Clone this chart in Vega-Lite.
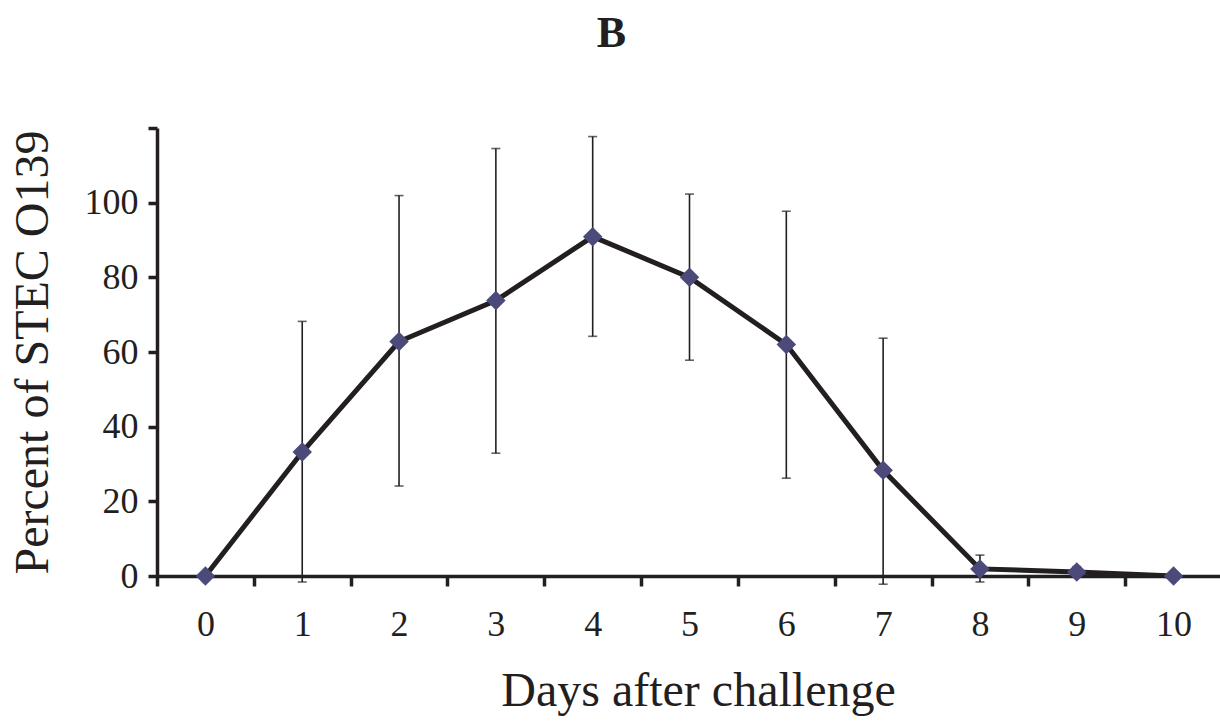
{
  "$schema": "https://vega.github.io/schema/vega-lite/v6.json",
  "autosize": {"type": "none"},
  "padding": {"left": 157, "top": 128, "right": 0, "bottom": 151},
  "width": 1065,
  "height": 448,
  "background": "white",
  "config": {
    "view": {"stroke": null},
    "font": "Liberation Serif"
  },
  "title": {
    "text": "B",
    "font": "Liberation Serif",
    "fontSize": 44,
    "fontWeight": "bold",
    "color": "#231f20",
    "anchor": "middle",
    "frame": "group",
    "dx": -78,
    "baseline": "alphabetic",
    "offset": 35
  },
  "data": {
    "values": [
      {"day": 0, "mean": 0, "lo": 0, "hi": 0},
      {"day": 1, "mean": 33.2, "lo": -1.6, "hi": 68.2},
      {"day": 2, "mean": 62.8, "lo": 24.1, "hi": 101.9},
      {"day": 3, "mean": 73.8, "lo": 32.9, "hi": 114.5},
      {"day": 4, "mean": 90.9, "lo": 64.2, "hi": 117.7},
      {"day": 5, "mean": 80.0, "lo": 57.8, "hi": 102.3},
      {"day": 6, "mean": 62.0, "lo": 26.2, "hi": 97.7},
      {"day": 7, "mean": 28.3, "lo": -2.2, "hi": 63.7},
      {"day": 8, "mean": 1.9, "lo": -1.6, "hi": 5.6},
      {"day": 9, "mean": 1.1, "lo": 0, "hi": 2.5},
      {"day": 10, "mean": 0, "lo": 0, "hi": 0}
    ]
  },
  "encoding": {
    "x": {
      "field": "day",
      "type": "ordinal",
      "scale": {"type": "band", "paddingInner": 0, "paddingOuter": 0},
      "axis": {
        "title": "Days after challenge",
        "titleFont": "Liberation Serif",
        "titleFontSize": 48,
        "titleFontWeight": "normal",
        "titleColor": "#231f20",
        "titleX": 541,
        "titleY": 129,
        "titleBaseline": "alphabetic",
        "labelAngle": 0,
        "labelFont": "Liberation Serif",
        "labelFontSize": 36,
        "labelColor": "#231f20",
        "labelPadding": 21,
        "tickBand": "extent",
        "tickSize": 10,
        "tickWidth": 3.5,
        "tickColor": "#231f20",
        "domainWidth": 3.5,
        "domainColor": "#231f20",
        "grid": false
      }
    }
  },
  "layer": [
    {
      "mark": {"type": "rule", "color": "#231f20", "strokeWidth": 1.6},
      "encoding": {
        "y": {"field": "lo", "type": "quantitative"},
        "y2": {"field": "hi"}
      }
    },
    {
      "mark": {"type": "tick", "color": "#231f20", "size": 9, "thickness": 1.6, "orient": "horizontal"},
      "encoding": {
        "y": {"field": "hi", "type": "quantitative"}
      }
    },
    {
      "mark": {"type": "tick", "color": "#231f20", "size": 9, "thickness": 1.6, "orient": "horizontal"},
      "encoding": {
        "y": {"field": "lo", "type": "quantitative"}
      }
    },
    {
      "mark": {"type": "line", "color": "#231f20", "strokeWidth": 5},
      "encoding": {
        "y": {
          "field": "mean",
          "type": "quantitative",
          "scale": {"domain": [0, 120], "nice": false, "zero": false},
          "axis": {
            "title": "Percent of STEC O139",
            "titleFont": "Liberation Serif",
            "titleFontSize": 48,
            "titleFontWeight": "normal",
            "titleColor": "#231f20",
            "titleX": -110,
            "titleY": 224,
            "titleBaseline": "alphabetic",
            "titleAngle": 270,
            "values": [0, 20, 40, 60, 80, 100, 120],
            "labelExpr": "datum.value == 120 ? '' : datum.label",
            "labelFont": "Liberation Serif",
            "labelFontSize": 36,
            "labelColor": "#231f20",
            "labelPadding": 10,
            "tickSize": 9,
            "tickWidth": 3.5,
            "tickColor": "#231f20",
            "domainWidth": 3.5,
            "domainColor": "#231f20",
            "grid": false
          }
        }
      }
    },
    {
      "mark": {"type": "point", "shape": "diamond", "filled": true, "size": 380, "color": "#4b4a7b", "opacity": 1},
      "encoding": {
        "y": {"field": "mean", "type": "quantitative"}
      }
    }
  ]
}
